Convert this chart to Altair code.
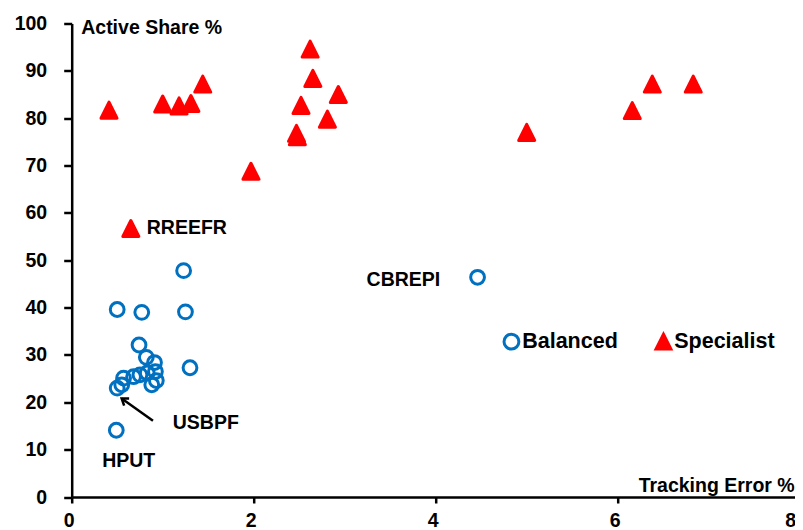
import altair as alt
import pandas as pd

# Balanced funds (tracking error %, active share %)
bal_x = [1.23, 0.50, 0.77, 1.25, 1.30, 0.74, 0.82, 0.91, 0.92, 0.93, 0.88, 0.75, 0.68, 0.57, 0.55, 0.50, 0.49, 4.46, 0.83]
bal_y = [47.8, 39.6, 39.0, 39.1, 27.3, 32.1, 29.5, 28.4, 26.5, 24.6, 23.7, 25.8, 25.4, 25.1, 23.7, 23.0, 14.1, 46.4, 26.2]

# Specialist funds
spe_x = [0.41, 1.00, 1.18, 1.31, 1.44, 2.62, 2.65, 2.93, 2.52, 2.81, 2.47, 2.48, 1.97, 5.00, 6.16, 6.38, 6.83, 0.65]
spe_y = [81.7, 83.0, 82.6, 83.1, 87.2, 94.6, 88.4, 85.0, 82.7, 79.8, 76.8, 76.1, 68.8, 77.0, 81.6, 87.2, 87.2, 56.7]

# Annotations
ann_text = ["RREEFR", "CBREPI", "USBPF", "HPUT"]
ann_x = [0.825, 4.05, 1.11, 0.335]
ann_y = [56.9, 45.9, 15.7, 7.6]
ann_align = ["left", "right", "left", "left"]

arrow_tail = (0.893, 16.1)
arrow_tip = (0.549, 20.8)

x_ticks = [0, 2, 4, 6, 8]
y_ticks = [0, 10, 20, 30, 40, 50, 60, 70, 80, 90, 100]

FONT = "Liberation Sans"
FS = 19.5

pts = pd.DataFrame({
    "te": bal_x + spe_x,
    "as": bal_y + spe_y,
    "type": ["Balanced"] * len(bal_x) + ["Specialist"] * len(spe_x),
})
ann = pd.DataFrame({"t": ann_text, "x": ann_x, "y": ann_y, "a": ann_align})
arr = pd.DataFrame({"x": [arrow_tail[0]], "y": [arrow_tail[1]],
                    "x2": [arrow_tip[0]], "y2": [arrow_tip[1]]})

xscale = alt.Scale(domain=[0, 8], nice=False, zero=False)
yscale = alt.Scale(domain=[0, 100], nice=False, zero=False)

tri = "M0,-1L1,1L-1,1Z"
domain = ["Balanced", "Specialist"]

x_enc = alt.X("te:Q", scale=xscale, axis=alt.Axis(
    values=x_ticks, format="d", title="Tracking Error %",
    titleX=722.5, titleY=-12, titleAlign="right", titleBaseline="middle", titleAngle=0,
    tickSize=6, labelPadding=8,
    labelOffset={"condition": {"test": "datum.value === 8", "value": -4}, "value": -3},
    labelAlign={"condition": {"test": "datum.value === 8", "value": "right"}, "value": "center"}))
y_enc = alt.Y("as:Q", scale=yscale, axis=alt.Axis(
    values=y_ticks, format="d", title="Active Share %",
    titleX=9, titleY=3.5, titleAlign="left", titleBaseline="middle", titleAngle=0,
    tickSize=8, labelPadding=17))

points = alt.Chart(pts).mark_point(strokeWidth=3, opacity=1, strokeJoin="round").encode(
    x=x_enc,
    y=y_enc,
    shape=alt.Shape("type:N", scale=alt.Scale(domain=domain, range=["circle", tri]),
                    legend=alt.Legend(title=None, orient="none", direction="horizontal",
                                      legendX=429, legendY=307, symbolSize=220,
                                      symbolStrokeWidth=3, labelOffset=0, columnPadding=31,
                                      labelFontSize=21.5, labelFont=FONT, labelFontWeight="bold",
                                      labelColor="black", padding=0, labelLimit=300)),
    stroke=alt.Stroke("type:N", scale=alt.Scale(domain=domain, range=["#0070C0", "#FF0000"])),
    fill=alt.Fill("type:N", scale=alt.Scale(domain=domain, range=["transparent", "#FF0000"])),
    size=alt.condition(alt.datum.type == "Balanced", alt.value(190), alt.value(256)),
)

def text_layer(align):
    return alt.Chart(ann).transform_filter(alt.datum.a == align).mark_text(
        font=FONT, fontSize=FS, fontWeight="bold", baseline="middle", color="black",
        align=align).encode(
        x=alt.X("x:Q", scale=xscale),
        y=alt.Y("y:Q", scale=yscale),
        text="t:N",
    )

arrow_line = alt.Chart(arr).mark_rule(color="black", strokeWidth=2.5).encode(
    x=alt.X("x:Q", scale=xscale), y=alt.Y("y:Q", scale=yscale),
    x2="x2:Q", y2="y2:Q")
arrow_head = alt.Chart(arr).mark_point(shape="M-0.7,1L0,0L0.7,1", filled=False, color="black",
                                       strokeWidth=2.5, size=150, angle=305.6, opacity=1).encode(
    x=alt.X("x2:Q", scale=xscale), y=alt.Y("y2:Q", scale=yscale))

chart = alt.layer(points, text_layer("left"), text_layer("right"), arrow_line, arrow_head).properties(
    width=728, height=473.5,
    padding={"left": 63.7, "top": 15.5, "right": -4.7, "bottom": 35},
    autosize=alt.AutoSizeParams(type="none"),
).configure_view(stroke=None).configure_axis(
    grid=False, domainColor="black", domainWidth=2.5, tickColor="black", tickWidth=2.5,
    labelFont=FONT, labelFontSize=FS, labelFontWeight="bold", labelColor="black",
    titleFont=FONT, titleFontSize=FS, titleFontWeight="bold", titleColor="black",
)

chart.save("out.html", embed_options={"renderer": "svg", "actions": False})
